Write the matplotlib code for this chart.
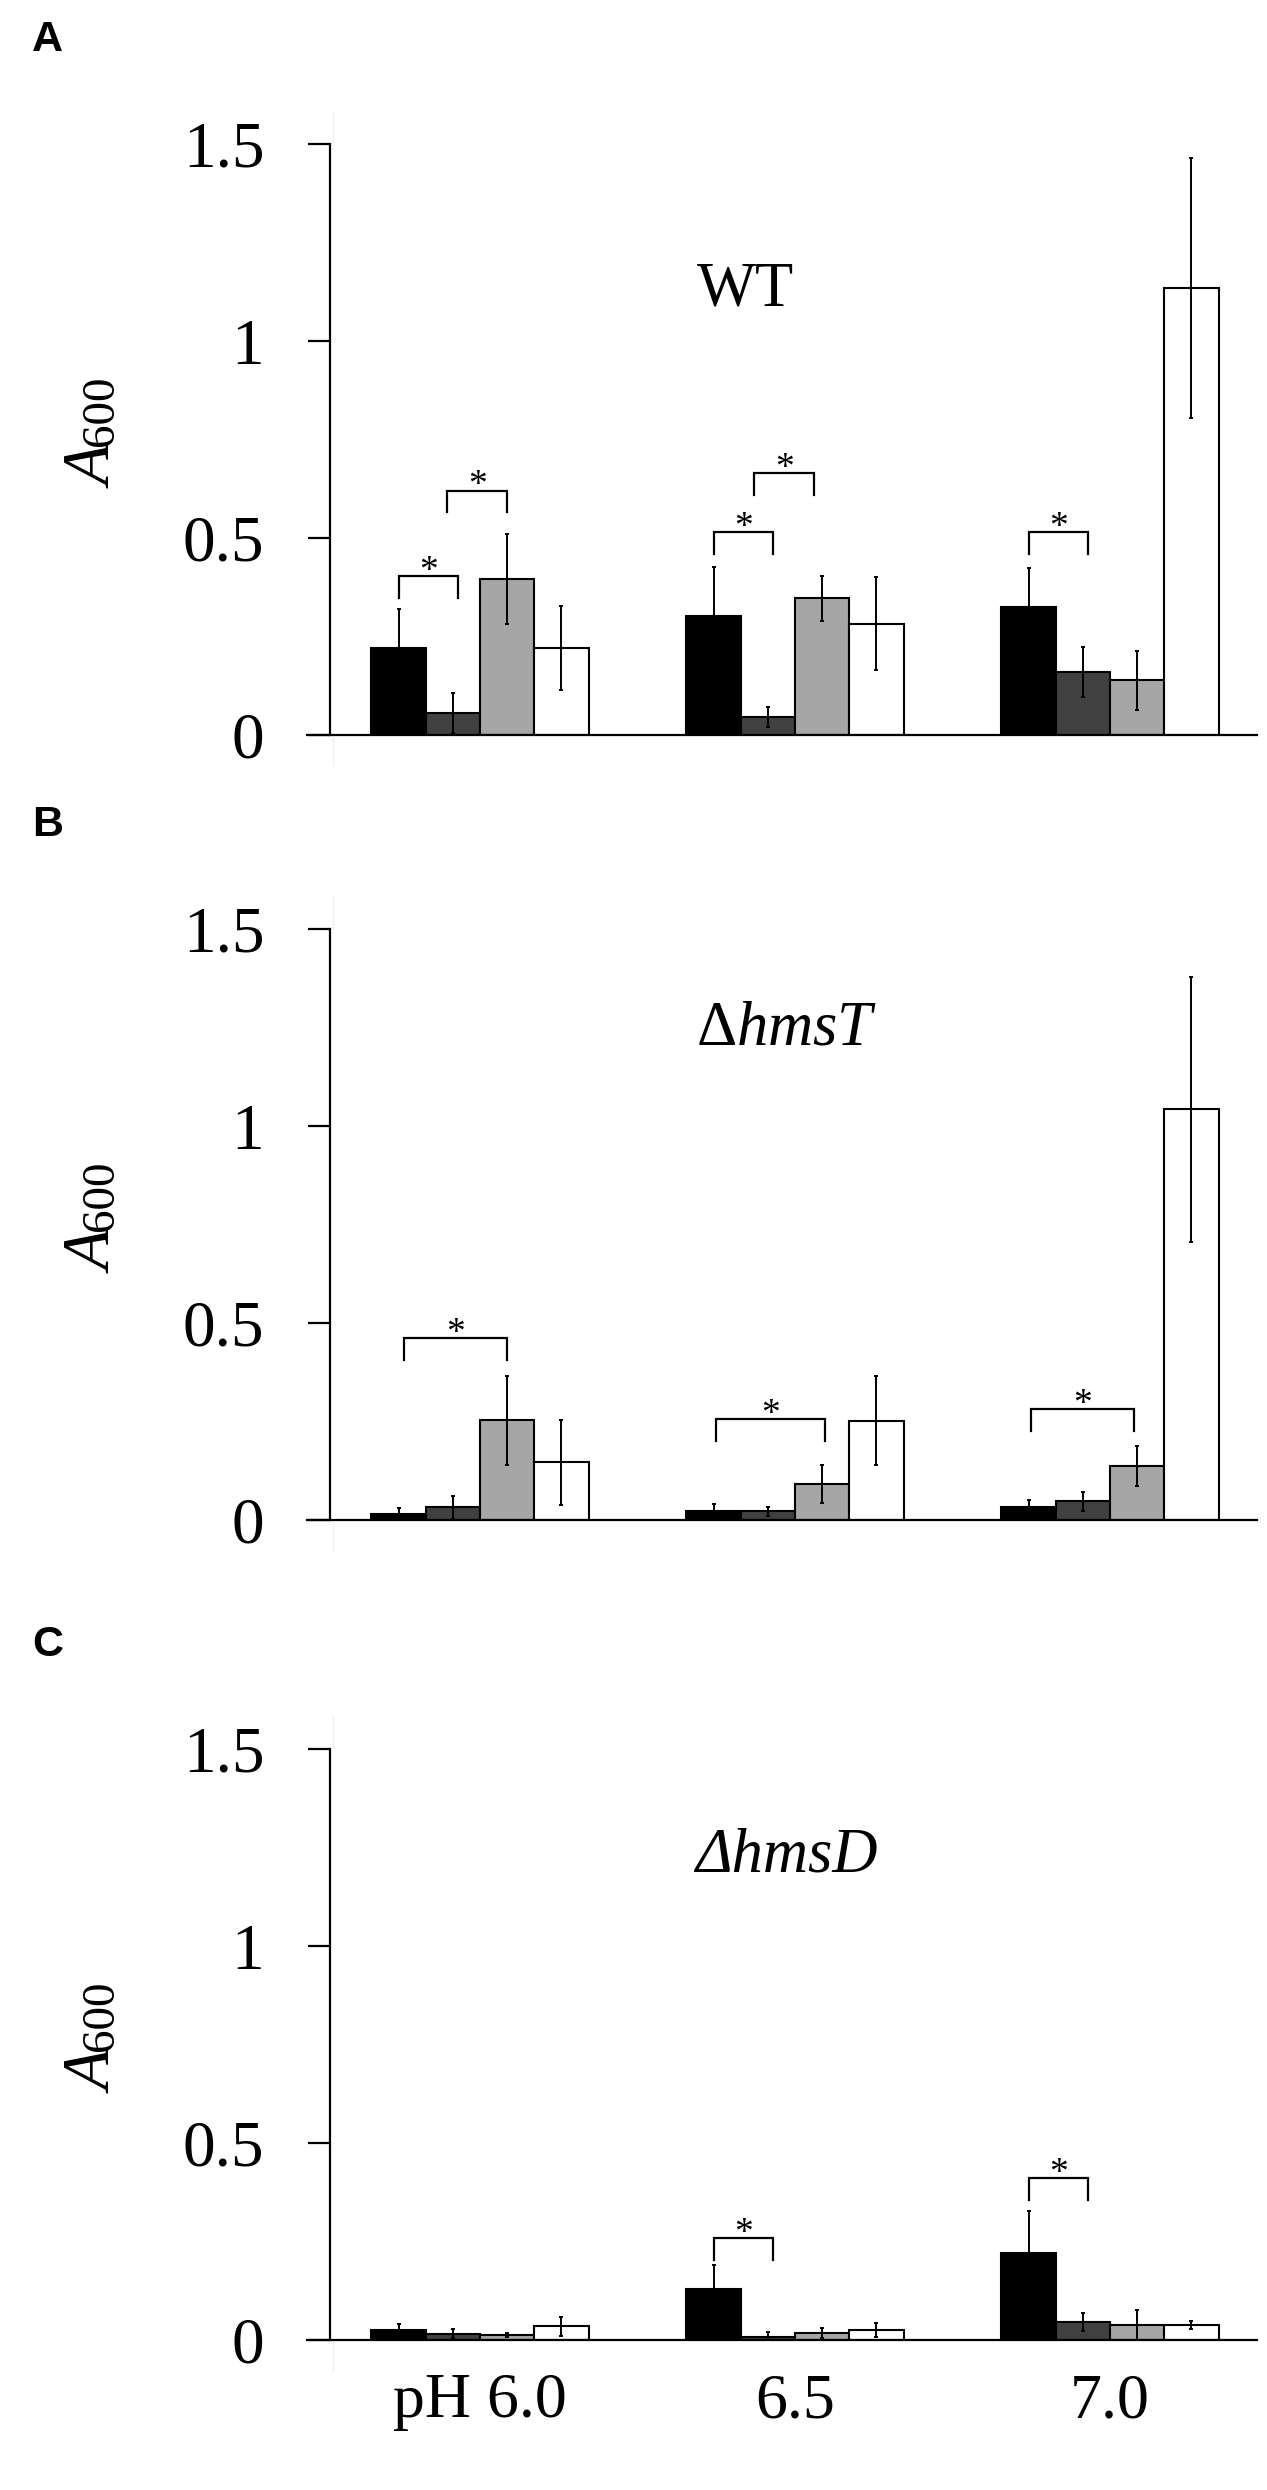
import numpy as np
import matplotlib
matplotlib.use("Agg")
import matplotlib.pyplot as plt
from matplotlib.lines import Line2D

plt.rcParams['font.family'] = ['Liberation Serif', 'DejaVu Serif']
plt.rcParams['mathtext.fontset'] = 'custom'
plt.rcParams['mathtext.rm'] = 'Liberation Serif'
plt.rcParams['mathtext.it'] = 'Liberation Serif:italic'

# ---- data (rows = pH group, cols = the four bars of each group) ----
ph_labels = ['pH 6.0', '6.5', '7.0']
bar_colors = ['#000000', '#404040', '#a6a6a6', '#ffffff']

wt_mean = np.array([[0.221, 0.056, 0.396, 0.221],
                    [0.303, 0.045, 0.347, 0.282],
                    [0.326, 0.160, 0.139, 1.135]])
wt_err = np.array([[0.100, 0.050, 0.114, 0.106],
                   [0.124, 0.025, 0.057, 0.118],
                   [0.098, 0.064, 0.075, 0.330]])

hmsT_mean = np.array([[0.016, 0.032, 0.253, 0.147],
                      [0.024, 0.022, 0.092, 0.252],
                      [0.034, 0.047, 0.137, 1.042]])
hmsT_err = np.array([[0.014, 0.029, 0.113, 0.108],
                     [0.017, 0.011, 0.048, 0.113],
                     [0.018, 0.023, 0.051, 0.337]])

hmsD_mean = np.array([[0.025, 0.016, 0.013, 0.035],
                      [0.130, 0.008, 0.017, 0.025],
                      [0.220, 0.046, 0.038, 0.038]])
hmsD_err = np.array([[0.015, 0.011, 0.006, 0.024],
                     [0.060, 0.013, 0.013, 0.018],
                     [0.108, 0.023, 0.037, 0.010]])

# significance brackets: (group, from bar, to bar, height)
wt_sig = [(0, 0.0, 1.1, 0.403), (0, 0.9, 2.0, 0.620),
          (1, 0.0, 1.1, 0.515), (1, 0.75, 1.85, 0.665),
          (2, 0.0, 1.1, 0.514)]
hmsT_sig = [(0, 0.1, 2.0, 0.461), (1, 0.05, 2.05, 0.256), (2, 0.05, 1.95, 0.282)]
hmsD_sig = [(1, 0.0, 1.1, 0.259), (2, 0.0, 1.1, 0.411)]

panels = [
    ('A', 'WT', wt_mean, wt_err, wt_sig, 735, (0.844, 1.089)),
    ('B', r'$\Delta\mathit{hmsT}$', hmsT_mean, hmsT_err, hmsT_sig, 1520, (0.975, 1.206)),
    ('C', 'ΔhmsD', hmsD_mean, hmsD_err, hmsD_sig, 2340, (0.971, 1.190)),
]

W, H = 1267, 2490
fig = plt.figure(figsize=(W / 100, H / 100), dpi=100)

px_unit = 315.0      # pixels per category
x_left_px, x_right_px, spine_px, cat0_px = 307, 1257, 330, 480
xlim = ((x_left_px - cat0_px) / px_unit, (x_right_px - cat0_px) / px_unit)
spine_x = (spine_px - cat0_px) / px_unit
bw = 54.3 / px_unit
axis_h = 591

x = np.arange(len(ph_labels))

for letter, title, mean, err, sig, y0, title_pos in panels:
    ax = fig.add_axes([x_left_px / W, 1 - y0 / H,
                       (x_right_px - x_left_px) / W, axis_h / H])
    for k in range(4):
        ax.bar(x + (k - 1.5) * bw, mean[:, k], bw, yerr=err[:, k],
               color=bar_colors[k], edgecolor='black', linewidth=1.5, zorder=2,
               error_kw=dict(ecolor='black', elinewidth=1.4, capsize=1.5,
                             capthick=1.4, zorder=3))

    for g, i, j, h in sig:
        xa = g + (i - 1.5) * bw
        xb = g + (j - 1.5) * bw
        ax.plot([xa, xa, xb, xb], [h - 0.055, h, h, h - 0.055], color='black',
                lw=1.6, solid_joinstyle='miter', clip_on=False, zorder=4)
        ax.text((xa + xb) / 2, h - 0.012, '*', ha='center', va='baseline',
                fontsize=27)

    style = 'italic' if letter == 'C' else 'normal'
    ax.text(title_pos[0], title_pos[1], title, ha='center', va='baseline',
            fontsize=45, style=style)

    ax.set_xlim(*xlim)
    ax.set_ylim(0, 1.5)
    for s in ['top', 'right']:
        ax.spines[s].set_visible(False)
    ax.spines['left'].set_position(('data', spine_x))
    ax.spines['left'].set_linewidth(1.6)
    ax.spines['bottom'].set_linewidth(1.6)
    ax.set_yticks([0, 0.5, 1, 1.5])
    ax.set_yticklabels(['0', '0.5', '1', '1.5'])
    ax.tick_params(axis='y', direction='out', length=15.8, width=1.6,
                   pad=31.5, labelsize=47)
    ax.set_xticks(x)
    if letter == 'C':
        ax.set_xticklabels(ph_labels)
        ax.tick_params(axis='x', length=0, pad=24, labelsize=46)
    else:
        ax.set_xticklabels([])
        ax.tick_params(axis='x', length=0)

    # y label "A600": italic A, then smaller upright 600 on the same baseline
    fig.text(113 / W, 1 - (y0 - 247) / H, 'A', rotation=90,
             rotation_mode='anchor', ha='left', va='baseline',
             fontsize=48, style='italic')
    fig.text(113 / W, 1 - (y0 - 247 - 42) / H, '600', rotation=90,
             rotation_mode='anchor', ha='left', va='baseline', fontsize=34)

    # panel letter
    fig.text(32 / W, 1 - (y0 - 735 + 20) / H, letter, ha='left', va='top',
             fontsize=31, fontweight='bold', family='Liberation Sans')

    # faint plot-area border line
    fig.add_artist(Line2D([333 / W, 333 / W],
                          [1 - (y0 - 623) / H, 1 - (y0 + 30) / H],
                          color='#f0f0f0', lw=1, zorder=0))

fig.savefig('out.png', dpi=100)
